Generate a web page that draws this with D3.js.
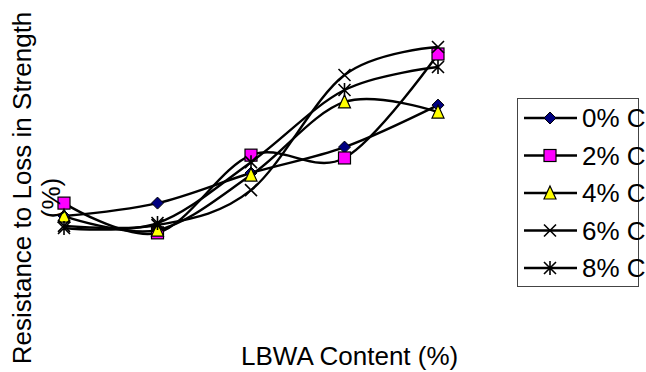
<!DOCTYPE html>
<html>
<head>
<meta charset="utf-8">
<script src="https://cdn.jsdelivr.net/npm/d3@7/dist/d3.min.js"></script>
<style>
  html, body { margin: 0; padding: 0; background: #fff; }
  svg { display: block; font-family: "Liberation Sans", Arial, sans-serif; }
</style>
</head>
<body>
<svg id="chart" width="646" height="372"></svg>
<script>
// LBWA content levels (x categories)
const categories = ["0", "5", "10", "15", "20"];

// Resistance to loss in strength (%) for each cement content
const series0 = [9.7, 13.4, 22.0, 29.4, 41.4];
const series2 = [13.4, 4.9, 27.1, 26.3, 56.0];
const series4 = [9.7, 5.7, 21.4, 42.3, 39.4];
const series6 = [6.9, 7.1, 17.1, 50.0, 58.0];
const series8 = [6.3, 7.7, 25.1, 45.7, 52.3];

const seriesNames = ["0% C", "2% C", "4% C", "6% C", "8% C"];

const series = [
  { name: seriesNames[0], values: series0, marker: "diamond", fill: "#000080" },
  { name: seriesNames[1], values: series2, marker: "square", fill: "#FF00FF" },
  { name: seriesNames[2], values: series4, marker: "triangle", fill: "#FFFF00" },
  { name: seriesNames[3], values: series6, marker: "x", fill: "none" },
  { name: seriesNames[4], values: series8, marker: "star", fill: "none" }
];

const svg = d3.select("#chart");

const x = d3.scalePoint().domain(categories).range([64, 438]);
const y = d3.scaleLinear().domain([0, 60]).range([250, 40]);

const line = d3.line()
  .x((d, i) => x(categories[i]))
  .y(d => y(d))
  .curve(d3.curveCatmullRom.alpha(0));

// marker shape drawn centred at (0,0)
function drawMarker(g, type, fill) {
  const s = 6;
  if (type === "diamond") {
    g.append("path").attr("d", `M0,${-s}L${s},0L0,${s}L${-s},0Z`)
      .attr("fill", fill).attr("stroke", "#000").attr("stroke-width", 1);
  } else if (type === "square") {
    g.append("rect").attr("x", -s).attr("y", -s).attr("width", 2 * s).attr("height", 2 * s)
      .attr("fill", fill).attr("stroke", "#000").attr("stroke-width", 1.2);
  } else if (type === "triangle") {
    g.append("path").attr("d", `M0,${-s - 1}L${s},${s}L${-s},${s}Z`)
      .attr("fill", fill).attr("stroke", "#000").attr("stroke-width", 1.2);
  } else if (type === "x") {
    g.append("path").attr("d", `M${-s},${-s}L${s},${s}M${-s},${s}L${s},${-s}`)
      .attr("stroke", "#000").attr("stroke-width", 1.6).attr("fill", "none");
  } else if (type === "star") {
    g.append("path").attr("d", `M${-s},${-s}L${s},${s}M${-s},${s}L${s},${-s}M0,${-s - 1}L0,${s + 1}`)
      .attr("stroke", "#000").attr("stroke-width", 1.6).attr("fill", "none");
  }
}

const plot = svg.append("g");

series.forEach(s => {
  const g = plot.append("g");
  g.append("path")
    .attr("d", line(s.values))
    .attr("fill", "none")
    .attr("stroke", "#000")
    .attr("stroke-width", 2.4);
  s.values.forEach((v, i) => {
    const m = g.append("g").attr("transform", `translate(${x(categories[i])},${y(v)})`);
    drawMarker(m, s.marker, s.fill);
  });
});

// axis titles
svg.append("text")
  .attr("transform", "translate(31,188) rotate(-90)")
  .attr("text-anchor", "middle")
  .attr("font-size", 26)
  .attr("fill", "#000")
  .text("Resistance to Loss in Strength");
svg.append("text")
  .attr("transform", "translate(60,198) rotate(-90)")
  .attr("text-anchor", "middle")
  .attr("font-size", 26)
  .attr("fill", "#000")
  .text("(%)");

svg.append("text")
  .attr("x", 241)
  .attr("y", 365)
  .attr("text-anchor", "start")
  .attr("font-size", 26)
  .attr("fill", "#000")
  .text("LBWA Content (%)");

// legend
const legend = svg.append("g");
legend.append("rect")
  .attr("x", 517.5).attr("y", 98.5).attr("width", 121).attr("height", 188)
  .attr("fill", "none").attr("stroke", "#444").attr("stroke-width", 1);

const ly = d3.scalePoint().domain(seriesNames).range([118, 268]);
series.forEach(s => {
  const g = legend.append("g").attr("transform", `translate(0,${ly(s.name)})`);
  g.append("line").attr("x1", 524).attr("x2", 577).attr("y1", 0).attr("y2", 0)
    .attr("stroke", "#000").attr("stroke-width", 2.4);
  drawMarker(g.append("g").attr("transform", "translate(550,0)"), s.marker, s.fill);
  g.append("text").attr("x", 582).attr("y", 9)
    .attr("font-size", 26).attr("fill", "#000").text(s.name);
});
</script>
</body>
</html>
